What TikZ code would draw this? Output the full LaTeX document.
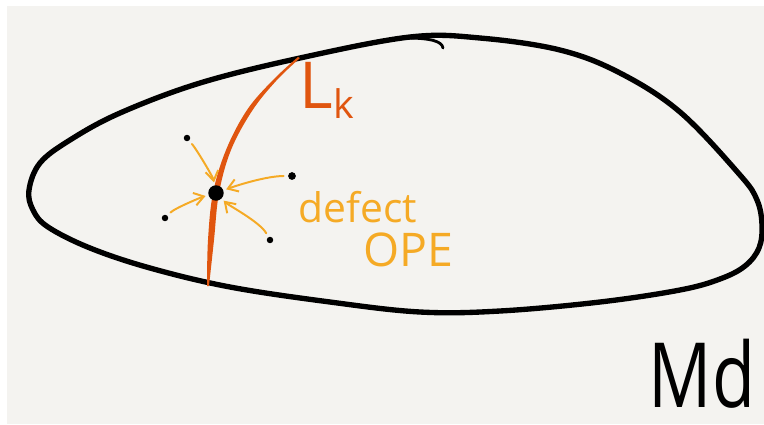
\documentclass[tikz,border=0pt]{standalone}
\usepackage{fontspec}
\setsansfont{Open Sans}
\usetikzlibrary{arrows.meta,positioning}
\definecolor{slate}{HTML}{F4F3F0}
\definecolor{defectred}{HTML}{E0550F}
\definecolor{opeyellow}{HTML}{F5AA25}
\tikzset{
  manifold/.style={draw=black,line width=3.8pt,line cap=round,line join=round},
  insertion/.style={circle,fill=black,inner sep=0pt,minimum size=4.6pt},
  fusion/.style={circle,fill=black,inner sep=0pt,minimum size=11pt},
  opearr/.style={-{Straight Barb[length=2.4mm,width=3.2mm]},draw=opeyellow,
                 line width=1.4pt,line cap=round,shorten <=3pt,shorten >=2pt},
  handlabel/.style={font=\sffamily,inner sep=0pt}
}

\begin{document}
\begin{tikzpicture}[x=0.025cm,y=-0.025cm]
    \useasboundingbox (0,0) rectangle (764,424);
    \fill[white] (0,0) rectangle (764,424);
    \fill[slate] (7,6) rectangle (764,424);
    % the manifold M_d
    \draw[manifold] plot[smooth cycle,tension=0.6] coordinates {
      (29,190) (40,163) (70,140) (120,113) (200,83) (300,58) (410,37)
      (480,38) (560,50) (620,73) (680,112) (740,175) (757,200) (762,225)
      (759,248) (745,266) (720,279) (680,290) (600,302) (500,311)
      (420,312) (330,302) (230,287) (150,268) (90,248) (48,227) (33,210)};
    \draw[manifold,line width=2pt] (405,38) .. controls (430,38) and (442,41) .. (443,48);
    % the defect L_k
    \fill[defectred] plot[smooth,tension=0.6] coordinates {
      (209,286) (214,240) (219,193) (231,150) (252,111) (276,81) (300,58)}
      -- plot[smooth,tension=0.6] coordinates {
      (298,57) (273,80) (247,110) (226,150) (213,193) (208,240) (207,286)}
      -- cycle;
    % insertions
    \node[fusion] (x) at (216,193) {};
    \node[insertion] (p1) at (187,138) {};
    \node[insertion,minimum size=5.5pt] (p2) at (292,176) {};
    \node[insertion] (p3) at (165,218) {};
    \node[insertion] (p4) at (270,240) {};
    \draw[opearr] (p1) .. controls +(10,12) and +(-3,-16) .. (x);
    \draw[opearr] (p2) .. controls +(-25,0) and +(22,-8) .. (x);
    \draw[opearr] (p3) .. controls +(10,-10) and +(-14,4) .. (x);
    \draw[opearr] (p4) .. controls +(-10,-18) and +(12,12) .. (x);
    % labels
    \node[handlabel,text=defectred,font=\sffamily\fontsize{46}{46}\selectfont]
      (lk) at (327,90) {L\raisebox{-7pt}{\fontsize{28}{28}\selectfont k}};
    \node[handlabel,text=opeyellow,font=\sffamily\fontsize{29}{29}\selectfont]
      (defect) at (358,207) {defect};
    \node[handlabel,text=opeyellow,font=\sffamily\fontsize{33}{33}\selectfont]
      (ope) at (408,250) {OPE};
    \node[handlabel,anchor=base,text depth=0pt,
          font=\sffamily\fontsize{64}{64}\selectfont]
      (md) at (702,407) {\scalebox{0.78}[1]{Md}};
\end{tikzpicture}
\end{document}
